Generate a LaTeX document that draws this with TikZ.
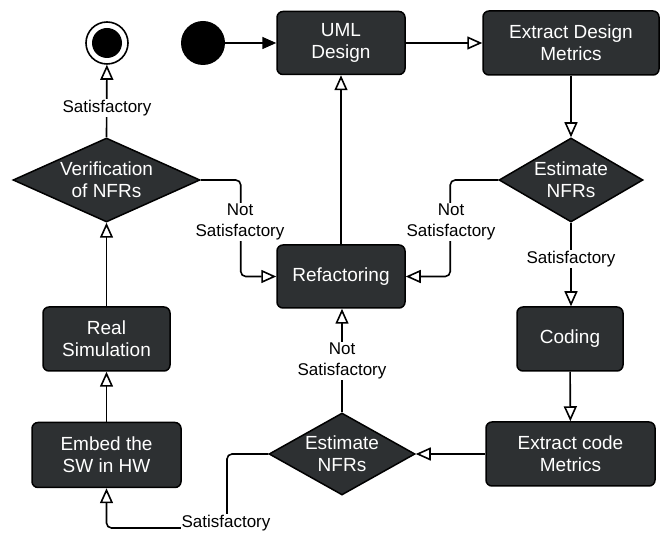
\documentclass[tikz,border=0pt]{standalone}
\usepackage{fontspec}
\setmainfont{Liberation Sans}
\usepackage{tikz}
\usetikzlibrary{positioning,shapes.geometric,arrows.meta}

\definecolor{boxgray}{RGB}{45,48,50}

\tikzset{
  act/.style={draw=black, line width=1.5pt, fill=boxgray, rounded corners=6pt,
    text=white, align=center, inner sep=0pt, font=\fontsize{19}{22}\selectfont},
  dec/.style={diamond, draw=black, line width=1.5pt, fill=boxgray, text=white,
    align=center, inner sep=0pt, font=\fontsize{19}{22}\selectfont},
  flow/.style={line width=1.6pt, rounded corners=5pt,
    -{Triangle[open,length=15pt,width=13pt,line width=1.6pt]}},
  lbl/.style={fill=white, align=center, inner sep=1pt, font=\fontsize{17}{21}\selectfont}
}

\begin{document}
\begin{tikzpicture}[x=1pt,y=-1pt]
\useasboundingbox (0,0) rectangle (662,534);

% start and end
\node[circle, fill=black, minimum size=44pt, inner sep=0pt] (start) at (203,43) {};
\node[circle, draw=black, line width=1.6pt, minimum size=42pt, inner sep=0pt] (final) at (107,43) {};
\node[circle, fill=black, minimum size=30pt, inner sep=0pt] (finaldot) at (final) {};

% activities
\node[act, minimum width=128pt, minimum height=63pt] (uml) at (341,43) {UML\\Design};
\node[act, minimum width=176pt, minimum height=64pt] (edm) at (571,43) {Extract Design\\Metrics};
\node[act, minimum width=128pt, minimum height=63pt] (refac) at (341,276.5) {Refactoring};
\node[act, minimum width=127pt, minimum height=64pt] (realsim) at (106.5,339) {Real\\Simulation};
\node[act, minimum width=106pt, minimum height=64pt] (coding) at (570,339) {Coding};
\node[act, minimum width=149pt, minimum height=65pt] (embed) at (106.5,455) {Embed the\\SW in HW};
\node[act, minimum width=169pt, minimum height=64pt] (ecm) at (570.5,454) {Extract code\\Metrics};

% decisions
\node[dec, minimum width=144pt, minimum height=84pt, shape aspect=1.71] (est1) at (571,180) {Estimate\\NFRs};
\node[dec, minimum width=187pt, minimum height=84pt, shape aspect=2.2] (verif) at (106.5,180) {Verification\\of NFRs};
\node[dec, minimum width=146pt, minimum height=82pt, shape aspect=1.78] (est2) at (342,454) {Estimate\\NFRs};

% flows
\draw[line width=1.6pt, -{Triangle[length=14pt,width=12pt]}] (start) -- (uml);
\draw[flow] (uml) -- (edm);
\draw[flow] (edm) -- (est1);
\draw[flow] (est1.west) -- ++(-48,0) |- (refac.east);
\draw[flow] (est1.south) -- (est1.south |- coding.north);
\draw[flow] (coding) -- (ecm);
\draw[flow] (ecm.west) -- (est2.east);
\draw[flow] (est2.north) -- (est2.north |- refac.south);
\coordinate (sbend) at (227,528);
\draw[flow] (est2.west) -| (sbend) -| (embed.south);
\draw[flow] (refac.north) -- (refac.north |- uml.south);
\draw[flow] (verif.east) -- ++(40,0) |- (refac.west);
\draw[flow] (verif.north) -- (final);
\draw[flow] (realsim.north) -- (verif.south);
\draw[flow] (embed) -- (realsim);

% guards
\node[lbl] (g1) at (107,108) {Satisfactory};
\node[lbl] (g2) at (240,222) {Not\\Satisfactory};
\node[lbl] (g3) at (451,222) {Not\\Satisfactory};
\node[lbl] (g4) at (571,259) {Satisfactory};
\node[lbl] (g5) at (342,361) {Not\\Satisfactory};
\node[lbl] (g6) at (226,523) {Satisfactory};
\end{tikzpicture}
\end{document}
